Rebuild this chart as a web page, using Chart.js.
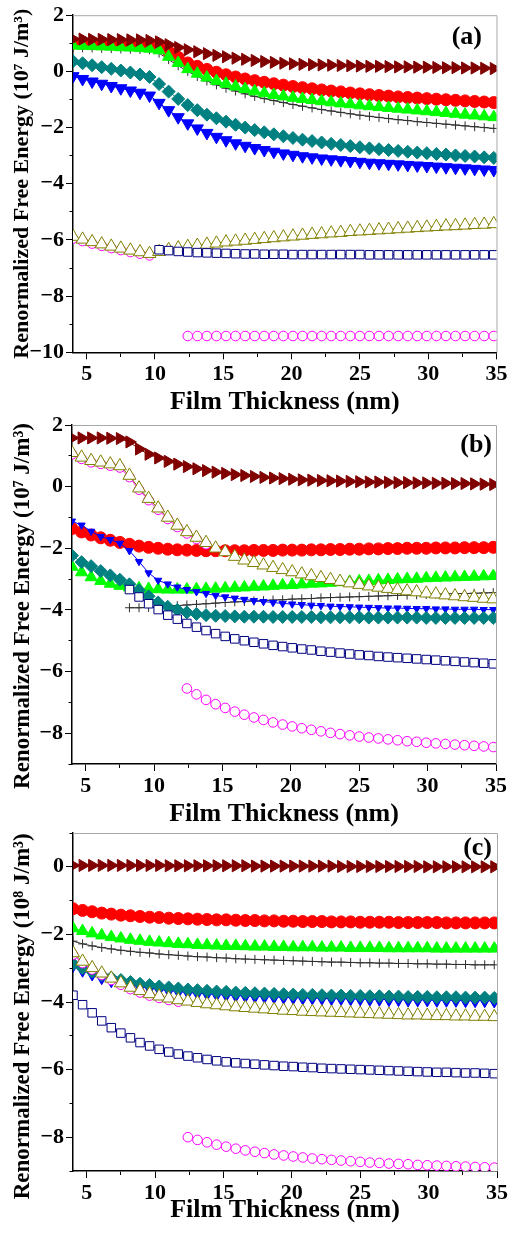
<!DOCTYPE html>
<html>
<head>
<meta charset="utf-8">
<script src="https://cdn.jsdelivr.net/npm/chart.js@4.4.1/dist/chart.umd.min.js"></script>
<style>
  html, body { margin: 0; padding: 0; background: #fff; }
  body { position: relative; width: 511px; height: 1235px; overflow: hidden; }
  canvas { position: absolute; left: 0; }
</style>
</head>
<body>
<canvas id="panelA" width="511" height="420" style="top:0px;width:511px;height:420px"></canvas>
<canvas id="panelB" width="511" height="425" style="top:405px;width:511px;height:425px"></canvas>
<canvas id="panelC" width="511" height="420" style="top:815px;width:511px;height:420px"></canvas>
<script>
// film thickness (nm), shared by all three panels
const thickness = [4.0, 4.7, 5.4, 6.1, 6.8, 7.5, 8.2, 8.9, 9.6,
  10.3, 11.0, 11.7, 12.4, 13.1, 13.8, 14.5, 15.2, 15.9,
  16.6, 17.3, 18.0, 18.7, 19.4, 20.1, 20.8, 21.5, 22.2,
  22.9, 23.6, 24.3, 25.0, 25.7, 26.4, 27.1, 27.8, 28.5,
  29.2, 29.9, 30.6, 31.3, 32.0, 32.7, 33.4, 34.1, 34.8];

const xTicks = [5, 7.5, 10, 12.5, 15, 17.5, 20, 22.5, 25, 27.5, 30, 32.5, 35];
const yTicksA = [-10, -9, -8, -7, -6, -5, -4, -3, -2, -1, 0, 1, 2];
const yTicksB = [-9, -8, -7, -6, -5, -4, -3, -2, -1, 0, 1, 2];
const yTicksC = [-9, -8, -7, -6, -5, -4, -3, -2, -1, 0, 1];

// ---- panel (a), 10^7 J/m^3 ----
const aDarkRed = [1.15, 1.15, 1.14, 1.14, 1.13, 1.13, 1.12, 1.12, 1.10,
  1.05, 0.95, 0.85, 0.77, 0.70, 0.63, 0.57, 0.52, 0.47,
  0.43, 0.39, 0.35, 0.32, 0.29, 0.27, 0.25, 0.24, 0.23,
  0.22, 0.21, 0.20, 0.19, 0.18, 0.18, 0.17, 0.16, 0.16,
  0.15, 0.15, 0.14, 0.13, 0.13, 0.12, 0.12, 0.11, 0.10];
const aRed = [1.00, 1.00, 0.99, 0.99, 0.98, 0.98, 0.97, 0.96, 0.95,
  0.88, 0.70, 0.50, 0.30, 0.18, 0.07, -0.03, -0.12, -0.20,
  -0.27, -0.33, -0.39, -0.44, -0.49, -0.54, -0.58, -0.62, -0.66,
  -0.70, -0.73, -0.77, -0.80, -0.83, -0.86, -0.88, -0.91, -0.93,
  -0.95, -0.97, -0.99, -1.01, -1.03, -1.05, -1.07, -1.09, -1.11];
const aGreen = [0.92, 0.91, 0.90, 0.89, 0.88, 0.86, 0.85, 0.83, 0.81,
  0.75, 0.52, 0.30, 0.08, -0.08, -0.22, -0.34, -0.44, -0.54,
  -0.63, -0.71, -0.78, -0.84, -0.89, -0.94, -0.98, -1.02, -1.06,
  -1.10, -1.14, -1.17, -1.21, -1.24, -1.27, -1.30, -1.33, -1.36,
  -1.39, -1.42, -1.45, -1.48, -1.51, -1.54, -1.57, -1.60, -1.63];
const aCross = [0.85, 0.84, 0.83, 0.82, 0.81, 0.80, 0.79, 0.78, 0.77,
  0.65, 0.42, 0.20, 0.00, -0.18, -0.34, -0.48, -0.60, -0.70,
  -0.80, -0.89, -0.97, -1.04, -1.11, -1.18, -1.24, -1.30, -1.36,
  -1.41, -1.46, -1.51, -1.56, -1.60, -1.64, -1.68, -1.72, -1.75,
  -1.79, -1.82, -1.85, -1.88, -1.91, -1.94, -1.97, -2.00, -2.03];
const aTeal = [0.36, 0.29, 0.22, 0.15, 0.09, 0.03, -0.04, -0.11, -0.20,
  -0.45, -0.72, -0.98, -1.20, -1.38, -1.54, -1.67, -1.79, -1.90,
  -2.00, -2.09, -2.17, -2.24, -2.31, -2.37, -2.43, -2.48, -2.53,
  -2.58, -2.62, -2.66, -2.70, -2.74, -2.77, -2.80, -2.83, -2.86,
  -2.89, -2.91, -2.94, -2.96, -2.99, -3.01, -3.03, -3.06, -3.08];
const aBlue = [-0.17, -0.27, -0.36, -0.44, -0.52, -0.60, -0.68, -0.76, -0.86,
  -1.12, -1.38, -1.63, -1.85, -2.03, -2.19, -2.33, -2.45, -2.56,
  -2.65, -2.73, -2.80, -2.86, -2.92, -2.97, -3.02, -3.06, -3.10,
  -3.13, -3.16, -3.19, -3.22, -3.25, -3.27, -3.29, -3.31, -3.33,
  -3.35, -3.37, -3.39, -3.41, -3.43, -3.45, -3.47, -3.49, -3.51];
const aOlive = [-5.88, -5.98, -6.07, -6.15, -6.23, -6.30, -6.37, -6.43, -6.49,
  -6.42, -6.35, -6.29, -6.24, -6.20, -6.16, -6.12, -6.08, -6.05,
  -6.02, -5.99, -5.96, -5.93, -5.90, -5.87, -5.84, -5.81, -5.79,
  -5.76, -5.74, -5.71, -5.69, -5.67, -5.65, -5.63, -5.61, -5.59,
  -5.57, -5.55, -5.53, -5.51, -5.50, -5.48, -5.46, -5.45, -5.43];
const aPinkLow = [-5.95, -6.04, -6.13, -6.21, -6.29, -6.36, -6.43, -6.49, -6.55];
const aNavy = [null, null, null, null, null, null, null, null, null,
  -6.35, -6.38, -6.41, -6.43, -6.45, -6.46, -6.47, -6.48, -6.49,
  -6.50, -6.50, -6.51, -6.51, -6.51, -6.52, -6.52, -6.52, -6.52,
  -6.52, -6.52, -6.52, -6.52, -6.53, -6.53, -6.53, -6.53, -6.53,
  -6.53, -6.53, -6.53, -6.53, -6.53, -6.53, -6.53, -6.53, -6.53];
const aPink = [null, null, null, null, null, null, null, null, null,
  null, null, null, -9.42, -9.42, -9.42, -9.42, -9.42, -9.42,
  -9.42, -9.42, -9.42, -9.42, -9.42, -9.42, -9.42, -9.42, -9.42,
  -9.42, -9.42, -9.42, -9.42, -9.42, -9.42, -9.42, -9.42, -9.42,
  -9.42, -9.42, -9.42, -9.42, -9.42, -9.42, -9.42, -9.42, -9.42];

// ---- panel (b), 10^7 J/m^3 ----
const bDarkRed = [1.58, 1.58, 1.58, 1.58, 1.57, 1.56, 1.45, 1.22, 1.05,
  0.93, 0.82, 0.73, 0.65, 0.58, 0.52, 0.47, 0.43, 0.39,
  0.36, 0.33, 0.30, 0.28, 0.26, 0.24, 0.22, 0.21, 0.20,
  0.19, 0.18, 0.17, 0.16, 0.15, 0.15, 0.14, 0.13, 0.13,
  0.12, 0.12, 0.11, 0.11, 0.10, 0.10, 0.09, 0.08, 0.07];
const bRed = [-1.36, -1.47, -1.57, -1.66, -1.74, -1.81, -1.87, -1.93, -1.97,
  -2.00, -2.03, -2.05, -2.06, -2.07, -2.08, -2.08, -2.08, -2.08,
  -2.08, -2.07, -2.07, -2.07, -2.06, -2.06, -2.06, -2.05, -2.05,
  -2.04, -2.04, -2.03, -2.03, -2.02, -2.02, -2.01, -2.01, -2.00,
  -2.00, -2.00, -1.99, -1.99, -1.99, -1.98, -1.98, -1.98, -1.97];
const bGreen = [-2.60, -2.78, -2.94, -3.06, -3.15, -3.22, -3.27, -3.30, -3.32,
  -3.33, -3.34, -3.34, -3.34, -3.33, -3.32, -3.31, -3.30, -3.28,
  -3.27, -3.25, -3.24, -3.22, -3.20, -3.19, -3.17, -3.15, -3.14,
  -3.12, -3.10, -3.09, -3.07, -3.06, -3.04, -3.03, -3.01, -3.00,
  -2.99, -2.97, -2.96, -2.95, -2.94, -2.93, -2.92, -2.91, -2.90];
const bCross = [null, null, null, null, null, null, -3.93, -3.93, -3.92,
  -3.90, -3.88, -3.86, -3.84, -3.82, -3.80, -3.78, -3.76, -3.74,
  -3.73, -3.71, -3.70, -3.68, -3.67, -3.65, -3.64, -3.63, -3.61,
  -3.60, -3.59, -3.58, -3.57, -3.56, -3.55, -3.54, -3.53, -3.52,
  -3.51, -3.50, -3.49, -3.48, -3.47, -3.47, -3.46, -3.45, -3.44];
const bTeal = [-2.24, -2.45, -2.58, -2.74, -2.88, -3.02, -3.17, -3.36, -3.56,
  -3.76, -3.90, -4.00, -4.08, -4.13, -4.17, -4.19, -4.20, -4.21,
  -4.22, -4.22, -4.22, -4.23, -4.23, -4.23, -4.23, -4.23, -4.24,
  -4.24, -4.24, -4.24, -4.24, -4.25, -4.25, -4.25, -4.25, -4.25,
  -4.25, -4.26, -4.26, -4.26, -4.26, -4.26, -4.26, -4.26, -4.26];
const bBlue = [-1.12, -1.25, -1.45, -1.62, -1.72, -1.84, -2.08, -2.43, -2.80,
  -3.04, -3.16, -3.26, -3.34, -3.41, -3.47, -3.53, -3.58, -3.62,
  -3.66, -3.70, -3.73, -3.76, -3.79, -3.81, -3.83, -3.85, -3.86,
  -3.88, -3.89, -3.90, -3.91, -3.92, -3.93, -3.94, -3.94, -3.95,
  -3.96, -3.96, -3.97, -3.97, -3.98, -3.98, -3.98, -3.99, -3.99];
const bOlive = [1.10, 0.95, 0.84, 0.79, 0.73, 0.67, 0.36, -0.05, -0.39,
  -0.70, -1.00, -1.26, -1.47, -1.65, -1.82, -2.00, -2.12, -2.27,
  -2.39, -2.47, -2.55, -2.63, -2.70, -2.77, -2.84, -2.90, -2.96,
  -3.02, -3.08, -3.13, -3.18, -3.23, -3.27, -3.31, -3.35, -3.39,
  -3.42, -3.46, -3.49, -3.52, -3.55, -3.58, -3.60, -3.63, -3.65];
const bPinkLow = [1.05, 0.90, 0.79, 0.74, 0.68, 0.62, 0.31, -0.10, -0.44,
  -0.75, -1.05, -1.31, -1.52, -1.70, -1.87];
const bNavy = [null, null, null, null, null, null, -3.34, -3.58, -3.80,
  -3.99, -4.17, -4.30, -4.44, -4.56, -4.67, -4.77, -4.86, -4.94,
  -5.00, -5.05, -5.10, -5.15, -5.19, -5.23, -5.27, -5.30, -5.34,
  -5.37, -5.40, -5.43, -5.46, -5.48, -5.51, -5.53, -5.55, -5.57,
  -5.59, -5.61, -5.63, -5.65, -5.67, -5.69, -5.71, -5.73, -5.75];
const bPink = [null, null, null, null, null, null, null, null, null,
  null, null, null, -6.55, -6.74, -6.92, -7.06, -7.18, -7.30,
  -7.40, -7.49, -7.57, -7.65, -7.72, -7.78, -7.84, -7.89, -7.94,
  -7.99, -8.03, -8.07, -8.11, -8.14, -8.17, -8.20, -8.23, -8.26,
  -8.28, -8.31, -8.33, -8.35, -8.37, -8.39, -8.41, -8.43, -8.45];

// ---- panel (c), 10^8 J/m^3 ----
const cDarkRed = [0.04, 0.04, 0.04, 0.04, 0.04, 0.04, 0.04, 0.04, 0.04,
  0.04, 0.03, 0.03, 0.03, 0.03, 0.03, 0.03, 0.03, 0.03,
  0.03, 0.02, 0.02, 0.02, 0.02, 0.02, 0.02, 0.02, 0.02,
  0.02, 0.01, 0.01, 0.01, 0.01, 0.01, 0.01, 0.01, 0.01,
  0.01, 0.00, 0.00, 0.00, 0.00, 0.00, 0.00, 0.00, 0.00];
const cRed = [-1.24, -1.29, -1.33, -1.37, -1.40, -1.43, -1.45, -1.47, -1.49,
  -1.50, -1.52, -1.53, -1.54, -1.55, -1.56, -1.57, -1.57, -1.58,
  -1.59, -1.59, -1.60, -1.60, -1.61, -1.61, -1.62, -1.62, -1.62,
  -1.63, -1.63, -1.63, -1.64, -1.64, -1.64, -1.64, -1.65, -1.65,
  -1.65, -1.65, -1.65, -1.66, -1.66, -1.66, -1.66, -1.66, -1.66];
const cGreen = [-1.82, -1.90, -1.97, -2.03, -2.08, -2.12, -2.16, -2.19, -2.22,
  -2.24, -2.26, -2.28, -2.29, -2.31, -2.32, -2.33, -2.34, -2.34,
  -2.35, -2.36, -2.36, -2.37, -2.37, -2.38, -2.38, -2.38, -2.39,
  -2.39, -2.39, -2.40, -2.40, -2.40, -2.40, -2.41, -2.41, -2.41,
  -2.41, -2.41, -2.42, -2.42, -2.42, -2.42, -2.42, -2.42, -2.42];
const cCross = [-2.20, -2.28, -2.34, -2.39, -2.43, -2.47, -2.50, -2.53, -2.55,
  -2.58, -2.60, -2.62, -2.64, -2.66, -2.67, -2.69, -2.70, -2.72,
  -2.73, -2.74, -2.75, -2.76, -2.77, -2.78, -2.79, -2.80, -2.81,
  -2.82, -2.82, -2.83, -2.84, -2.84, -2.85, -2.85, -2.86, -2.86,
  -2.87, -2.87, -2.88, -2.88, -2.89, -2.89, -2.90, -2.90, -2.90];
const cTeal = [-2.87, -3.00, -3.10, -3.20, -3.28, -3.35, -3.41, -3.46, -3.50,
  -3.54, -3.57, -3.60, -3.63, -3.65, -3.67, -3.69, -3.70, -3.72,
  -3.73, -3.74, -3.75, -3.76, -3.77, -3.78, -3.79, -3.79, -3.80,
  -3.81, -3.81, -3.82, -3.82, -3.83, -3.83, -3.84, -3.84, -3.85,
  -3.85, -3.85, -3.86, -3.86, -3.86, -3.87, -3.87, -3.87, -3.88];
const cBlue = [-2.92, -3.06, -3.17, -3.28, -3.37, -3.44, -3.50, -3.55, -3.59,
  -3.63, -3.66, -3.69, -3.72, -3.74, -3.76, -3.78, -3.79, -3.81,
  -3.82, -3.83, -3.84, -3.85, -3.86, -3.87, -3.88, -3.88, -3.89,
  -3.90, -3.90, -3.91, -3.91, -3.92, -3.92, -3.93, -3.93, -3.94,
  -3.94, -3.94, -3.95, -3.95, -3.95, -3.96, -3.96, -3.96, -3.97];
const cOlive = [-2.55, -2.80, -2.99, -3.15, -3.30, -3.44, -3.57, -3.67, -3.76,
  -3.83, -3.89, -3.94, -3.98, -4.02, -4.06, -4.09, -4.12, -4.15,
  -4.17, -4.19, -4.21, -4.23, -4.25, -4.26, -4.28, -4.29, -4.30,
  -4.31, -4.32, -4.33, -4.34, -4.35, -4.36, -4.37, -4.38, -4.39,
  -4.39, -4.40, -4.41, -4.41, -4.42, -4.42, -4.43, -4.43, -4.44];
const cPinkLow = [-2.60, -2.85, -3.04, -3.20, -3.35, -3.49, -3.62, -3.72, -3.81,
  -3.88, -3.94, -3.99];
const cNavy = [-3.80, -4.08, -4.32, -4.56, -4.76, -4.92, -5.06, -5.20, -5.30,
  -5.40, -5.48, -5.54, -5.60, -5.65, -5.70, -5.74, -5.77, -5.80,
  -5.82, -5.84, -5.86, -5.88, -5.90, -5.91, -5.93, -5.94, -5.96,
  -5.97, -5.98, -5.99, -6.00, -6.01, -6.02, -6.03, -6.04, -6.05,
  -6.06, -6.07, -6.08, -6.08, -6.09, -6.10, -6.10, -6.11, -6.12];
const cPink = [null, null, null, null, null, null, null, null, null,
  null, null, null, -8.00, -8.08, -8.15, -8.22, -8.28, -8.34,
  -8.39, -8.43, -8.47, -8.51, -8.54, -8.57, -8.60, -8.63, -8.65,
  -8.67, -8.69, -8.71, -8.73, -8.75, -8.76, -8.78, -8.79, -8.80,
  -8.82, -8.83, -8.84, -8.85, -8.86, -8.87, -8.88, -8.89, -8.90];

const SERIF = '"Times New Roman", "Liberation Serif", serif';

const styles = {
  darkRed: { color: '#800000', shape: 'triangle', rotation: 90, radius: 7, filled: true },
  red:     { color: '#ff0000', shape: 'circle', rotation: 0, radius: 6, filled: true },
  green:   { color: '#00ff00', shape: 'triangle', rotation: 0, radius: 7, filled: true },
  cross:   { color: '#303030', shape: 'cross', rotation: 0, radius: 4.5, filled: false },
  teal:    { color: '#008080', shape: 'rectRot', rotation: 0, radius: 6.5, filled: true },
  blue:    { color: '#0000ff', shape: 'triangle', rotation: 180, radius: 7, filled: true },
  olive:   { color: '#808000', shape: 'triangle', rotation: 0, radius: 7.5, filled: false },
  navy:    { color: '#000080', shape: 'rect', rotation: 0, radius: 6, filled: false },
  pink:    { color: '#ff00ff', shape: 'circle', rotation: 0, radius: 4.8, filled: false }
};

function series(ys, style, radius) {
  return {
    data: ys.map((y, i) => ({ x: thickness[i], y: y })),
    borderColor: style.color,
    backgroundColor: style.color,
    borderWidth: 1,
    pointStyle: style.shape,
    pointRotation: style.rotation,
    pointRadius: radius || style.radius,
    pointHoverRadius: radius || style.radius,
    pointBackgroundColor: style.filled ? style.color : '#ffffff',
    pointBorderColor: style.color,
    pointBorderWidth: 1,
    tension: 0,
    spanGaps: false
  };
}

// grey top/right frame plus the panel letter
const panelDecor = {
  id: 'panelDecor',
  beforeDatasetsDraw(chart) {
    const { ctx, chartArea } = chart;
    ctx.save();
    ctx.strokeStyle = '#a8a8a8';
    ctx.lineWidth = 1;
    ctx.beginPath();
    ctx.moveTo(chartArea.left, chartArea.top + 0.5);
    ctx.lineTo(chartArea.right + 0.5, chartArea.top + 0.5);
    ctx.lineTo(chartArea.right + 0.5, chartArea.bottom);
    ctx.stroke();
    ctx.restore();
  },
  afterDraw(chart, args, opts) {
    const { ctx, chartArea } = chart;
    ctx.save();
    ctx.font = 'bold ' + opts.size + 'px ' + SERIF;
    ctx.fillStyle = '#000';
    ctx.textAlign = 'right';
    ctx.textBaseline = 'middle';
    ctx.fillText(opts.text, chartArea.right - opts.dx, chartArea.top + opts.dy);
    ctx.restore();
  }
};

function renderPanel(id, p) {
  const tickFont = { family: SERIF, size: 22, weight: 'bold' };
  new Chart(document.getElementById(id), {
    type: 'line',
    data: { datasets: p.datasets },
    plugins: [panelDecor],
    options: {
      responsive: false,
      animation: false,
      devicePixelRatio: 1,
      events: [],
      layout: { padding: { top: p.padTop, right: p.padRight, left: 0, bottom: 0 } },
      plugins: {
        legend: { display: false },
        tooltip: { enabled: false },
        panelDecor: { text: p.letter, dx: p.letterDx, dy: p.letterDy, size: 26 }
      },
      scales: {
        x: {
          type: 'linear',
          min: 4,
          max: 35,
          afterBuildTicks: s => { s.ticks = xTicks.map(v => ({ value: v })); },
          afterFit: s => { s.height = p.xHeight; },
          grid: {
            drawOnChartArea: false,
            tickLength: 7,
            tickColor: '#000',
            tickWidth: 1,
            tickBorderDash: c => (c.tick && c.tick.value % 5 !== 0) ? [3.5, 20] : []
          },
          border: { display: true, color: '#000', width: 1.5 },
          ticks: {
            color: '#000',
            font: tickFont,
            padding: 2,
            maxRotation: 0,
            autoSkip: false,
            callback: v => (v % 5 === 0 ? String(v) : '')
          },
          title: {
            display: true,
            text: 'Film Thickness (nm)',
            color: '#000',
            font: { family: SERIF, size: 26, weight: 'bold' },
            padding: { top: 0, bottom: p.titlePad }
          }
        },
        y: {
          min: p.yMin,
          max: p.yMax,
          afterBuildTicks: s => { s.ticks = p.yTicks.map(v => ({ value: v })); },
          afterFit: s => { s.width = p.yWidth; },
          grid: {
            drawOnChartArea: false,
            tickLength: 7,
            tickColor: '#000',
            tickWidth: 1,
            tickBorderDash: c => (c.tick && Math.abs(c.tick.value % 2) === 1) ? [0, 3.5, 3.5, 20] : []
          },
          border: { display: true, color: '#000', width: 1.5 },
          ticks: {
            color: '#000',
            font: tickFont,
            padding: 2,
            autoSkip: false,
            callback: v => (v % 2 === 0 ? String(v).replace('-', '\u2212') : '')
          },
          title: {
            display: true,
            // trailing spaces nudge the centred title down along the axis
            text: 'Renormalized Free Energy (10' + p.exponent + ' J/m\u00b3)' + p.titleTail,
            color: '#000',
            font: { family: SERIF, size: p.yTitleSize, weight: 'bold' },
            padding: { top: 9, bottom: 0 }
          }
        }
      }
    }
  });
}

// index 0 is drawn on top
renderPanel('panelA', {
  padTop: 12, padRight: 14.5, yWidth: 73, xHeight: 67.7, titlePad: 2,
  yMin: -10, yMax: 2, yTicks: yTicksA, exponent: '\u2077', yTitleSize: 22, titleTail: '',
  letter: '(a)', letterDx: 14.5, letterDy: 22,
  datasets: [
    series(aNavy, styles.navy), series(aOlive, styles.olive), series(aPinkLow, styles.pink),
    series(aPink, styles.pink), series(aTeal, styles.teal), series(aBlue, styles.blue),
    series(aDarkRed, styles.darkRed), series(aGreen, styles.green), series(aCross, styles.cross),
    series(aRed, styles.red)
  ]
});

renderPanel('panelB', {
  padTop: 20, padRight: 15, yWidth: 72, xHeight: 66, titlePad: 0,
  yMin: -9, yMax: 2, yTicks: yTicksB, exponent: '\u2077', yTitleSize: 23, titleTail: '    ',
  letter: '(b)', letterDx: 4, letterDy: 20,
  datasets: [
    series(bNavy, styles.navy), series(bOlive, styles.olive), series(bPinkLow, styles.pink),
    series(bPink, styles.pink), series(bTeal, styles.teal), series(bBlue, styles.blue, 4.2),
    series(bDarkRed, styles.darkRed), series(bGreen, styles.green), series(bCross, styles.cross),
    series(bRed, styles.red)
  ]
});

renderPanel('panelC', {
  padTop: 18, padRight: 14, yWidth: 73, xHeight: 64, titlePad: 9,
  yMin: -9, yMax: 1, yTicks: yTicksC, exponent: '\u2078', yTitleSize: 23, titleTail: '     ',
  letter: '(c)', letterDx: 5, letterDy: 15,
  datasets: [
    series(cNavy, styles.navy), series(cOlive, styles.olive), series(cPinkLow, styles.pink),
    series(cPink, styles.pink), series(cTeal, styles.teal), series(cBlue, styles.blue),
    series(cDarkRed, styles.darkRed), series(cGreen, styles.green), series(cCross, styles.cross),
    series(cRed, styles.red)
  ]
});
</script>
</body>
</html>
